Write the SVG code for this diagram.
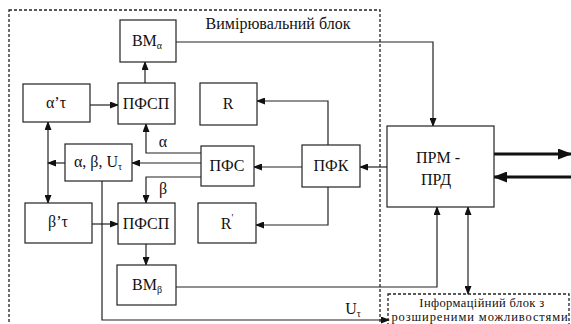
<svg xmlns="http://www.w3.org/2000/svg" width="571" height="324" viewBox="0 0 571 324">
<defs>
<marker id="ah" markerUnits="userSpaceOnUse" markerWidth="9" markerHeight="7" refX="8" refY="3.5" orient="auto-start-reverse">
<path d="M0,0 L9,3.5 L0,7 Z" fill="#111"/>
</marker>
<marker id="ahb" markerUnits="userSpaceOnUse" markerWidth="14" markerHeight="11" refX="13" refY="5.5" orient="auto-start-reverse">
<path d="M0,0 L14,5.5 L0,11 Z" fill="#111"/>
</marker>
</defs>
<style>
.box{fill:#fff;stroke:#222;stroke-width:1.2}
.t{font-family:"Liberation Serif","DejaVu Serif",serif;font-size:16px;fill:#111;text-anchor:middle}
.s{font-size:10px}
.i{font-size:12.5px}
.c{fill:none;stroke:#222;stroke-width:1.2}
.a{marker-end:url(#ah)}
.d{marker-start:url(#ah);marker-end:url(#ah)}
.thick{fill:none;stroke:#111;stroke-width:3.2;marker-end:url(#ahb)}
.dash{fill:none;stroke:#222;stroke-width:1.3;stroke-dasharray:3,2}
</style>
<rect width="571" height="324" fill="#fff"/>

<g id="measure-block">
<rect class="dash" x="9" y="10" width="371" height="330"/>
<text class="t" x="278" y="29">Вимірювальний блок</text>
</g>

<g id="info-block">
<rect class="dash" x="388" y="294" width="181" height="50"/>
<text class="t i" x="482" y="307" style="letter-spacing:0.4px">Інформаційний блок з</text>
<text class="t i" x="480" y="321" style="letter-spacing:0.9px">розширеними можливостями</text>
</g>

<g id="connectors">
<path class="c a" d="M145,83 V62"/>
<path class="c a" d="M90,105 H118"/>
<path class="c a" d="M176,42 H433 V126"/>
<path class="c a" d="M328,145 V101 H257"/>
<path class="c a" d="M302,167 H254"/>
<path class="c a" d="M387,167 H360"/>
<path class="c a" d="M328,187 V225 H256"/>
<path class="c a" d="M201,153 H146 V124"/>
<path class="c a" d="M201,163 H132"/>
<path class="c a" d="M201,177 H146 V203"/>
<path class="c a" d="M65,163 H48"/>
<path class="c d" d="M48,122 V203"/>
<path class="c a" d="M92,224 H118"/>
<path class="c a" d="M146,244 V265"/>
<path class="c a" d="M176,287 H437 V207"/>
<path class="c d" d="M468,207 V294"/>
<path class="c a" d="M102,181 V320 H389"/>
<path class="thick" d="M494,154 H571"/>
<path class="thick" d="M571,177 H494"/>
<text class="t" x="163" y="147">α</text>
<text class="t" x="163" y="194">β</text>
<text class="t" x="353" y="314">U<tspan class="s" dy="3">τ</tspan></text>
</g>

<g id="bm-alpha">
<rect class="box" x="120" y="20" width="56" height="42"/>
<text class="t" x="147" y="46">BM<tspan class="s" dy="3">α</tspan></text>
</g>
<g id="alpha-tau">
<rect class="box" x="23" y="84" width="67" height="38"/>
<text class="t" x="56" y="108">α’τ</text>
</g>
<g id="pfsp-1">
<rect class="box" x="118" y="83" width="57" height="41"/>
<text class="t" x="146" y="109">ПФСП</text>
</g>
<g id="r">
<rect class="box" x="200" y="83" width="57" height="42"/>
<text class="t" x="228" y="109">R</text>
</g>
<g id="alpha-beta-u">
<rect class="box" x="65" y="144" width="67" height="37"/>
<text class="t" x="98" y="167">α, β, U<tspan class="s" dy="3">τ</tspan></text>
</g>
<g id="pfs">
<rect class="box" x="201" y="146" width="53" height="40"/>
<text class="t" x="227" y="171">ПФС</text>
</g>
<g id="pfk">
<rect class="box" x="302" y="145" width="58" height="42"/>
<text class="t" x="331" y="171">ПФК</text>
</g>
<g id="prm-prd">
<rect class="box" x="387" y="126" width="107" height="81"/>
<text class="t" x="438" y="163">ПРМ -</text>
<text class="t" x="436" y="185">ПРД</text>
</g>
<g id="beta-tau">
<rect class="box" x="25" y="203" width="67" height="40"/>
<text class="t" x="58" y="227">β’τ</text>
</g>
<g id="pfsp-2">
<rect class="box" x="118" y="203" width="57" height="41"/>
<text class="t" x="146" y="229">ПФСП</text>
</g>
<g id="r-prime">
<rect class="box" x="198" y="203" width="58" height="40"/>
<text class="t" x="227" y="229">R<tspan class="s" dy="-8">'</tspan></text>
</g>
<g id="bm-beta">
<rect class="box" x="117" y="265" width="59" height="40"/>
<text class="t" x="147" y="290">BM<tspan class="s" dy="3">β</tspan></text>
</g>
</svg>
